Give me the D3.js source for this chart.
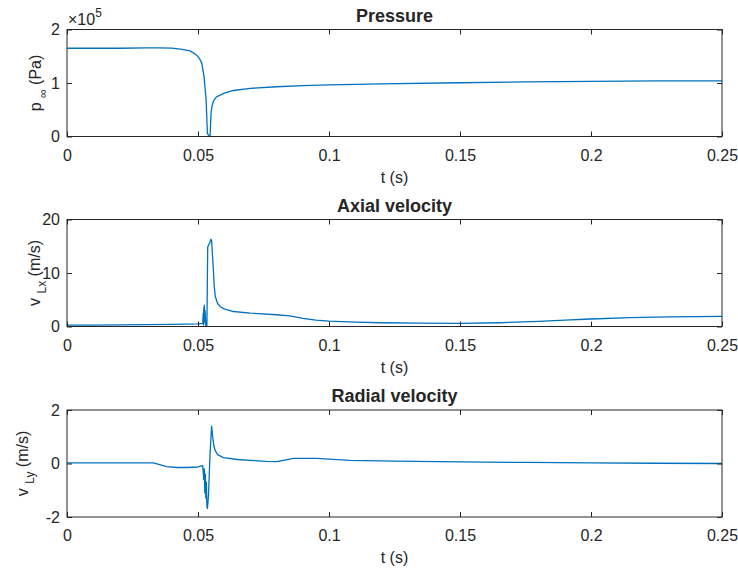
<!DOCTYPE html>
<html>
<head>
<meta charset="utf-8">
<script src="https://cdn.jsdelivr.net/npm/d3@7"></script>
<style>
  body { margin: 0; background: #fff; }
  text { font-family: "Liberation Sans", Arial, Helvetica, sans-serif; fill: #262626; }
</style>
</head>
<body>
<script>
// time axis ticks shared by all three panels
const tTicks = [0, 0.05, 0.1, 0.15, 0.2, 0.25];

// pressure p_inf (Pa)
const pressureT = [0, 0.01, 0.02, 0.03, 0.035, 0.04, 0.044, 0.047, 0.0495, 0.0505, 0.0514, 0.0523, 0.0531, 0.0536,
  0.0546, 0.0550, 0.0554, 0.0559, 0.0565, 0.0571, 0.060, 0.0635, 0.070, 0.080, 0.090, 0.100, 0.120, 0.150,
  0.175, 0.200, 0.225, 0.250];
const pressureP = [1.65e5, 1.65e5, 1.65e5, 1.655e5, 1.655e5, 1.65e5, 1.63e5, 1.60e5, 1.52e5, 1.46e5, 1.38e5, 1.12e5,
  0.68e5, 0.05e5, 0, 0.45e5, 0.58e5, 0.66e5, 0.71e5, 0.74e5, 0.81e5, 0.86e5, 0.90e5, 0.93e5, 0.95e5, 0.965e5,
  0.985e5, 1.005e5, 1.02e5, 1.03e5, 1.04e5, 1.04e5];
const pressureTicks = [0, 1e5, 2e5];

// axial velocity v_Lx (m/s)
const axialT = [0, 0.01, 0.02, 0.03, 0.04, 0.045, 0.05, 0.0518, 0.0520, 0.0521, 0.0522, 0.0523, 0.0524, 0.0525,
  0.0527, 0.0530, 0.0534, 0.0537, 0.0540, 0.0545, 0.0549, 0.0552, 0.0555, 0.0558, 0.0562, 0.0566, 0.0575, 0.0585,
  0.060, 0.0635, 0.070, 0.080, 0.085, 0.090, 0.095, 0.100, 0.110, 0.120, 0.135, 0.150, 0.165, 0.180, 0.190,
  0.200, 0.215, 0.230, 0.250];
const axialV = [0.25, 0.25, 0.3, 0.35, 0.4, 0.45, 0.5, 0.6, 2.5, 0.3, 3.5, 0.5, 4.0, 1.0, 3.0, 0.1, 0.2, 14.8,
  15.2, 15.6, 16.3, 16.0, 13.5, 11.2, 7.5, 5.6, 4.3, 3.7, 3.3, 2.8, 2.5, 2.2, 2.0, 1.5, 1.2, 1.0, 0.8, 0.7, 0.62,
  0.6, 0.7, 0.95, 1.2, 1.4, 1.65, 1.8, 1.9];
const axialTicks = [0, 10, 20];

// radial velocity v_Ly (m/s)
const radialT = [0, 0.01, 0.02, 0.03, 0.033, 0.036, 0.038, 0.042, 0.046, 0.050, 0.0518, 0.0522, 0.0524, 0.0526,
  0.0528, 0.0530, 0.0532, 0.0534, 0.0536, 0.0540, 0.0543, 0.0546, 0.0549, 0.0552, 0.0556, 0.0560, 0.0565, 0.0575,
  0.0597, 0.065, 0.070, 0.076, 0.080, 0.0826, 0.0864, 0.0953, 0.108, 0.125, 0.150, 0.175, 0.200, 0.225, 0.250];
const radialV = [0.02, 0.02, 0.02, 0.02, 0.02, -0.06, -0.12, -0.15, -0.15, -0.13, -0.08, -0.6, -0.2, -1.1, -0.4,
  -1.3, -0.7, -1.6, -1.68, -1.2, -0.4, 0.35, 0.9, 1.4, 1.0, 0.7, 0.5, 0.33, 0.22, 0.15, 0.12, 0.08, 0.07, 0.12,
  0.19, 0.19, 0.12, 0.09, 0.06, 0.04, 0.02, 0.01, 0.0];
const radialTicks = [-2, 0, 2];

const W = 738, H = 575;
const left = 67, right = 722, plotH = 107;
const ink = "#262626", lineColor = "#0072BD";

const svg = d3.select("body").append("svg").attr("width", W).attr("height", H);

const panels = [
  { title: "Pressure", top: 29.5, t: pressureT, v: pressureP, domain: [0, 2e5], ticks: pressureTicks,
    fmt: d => String(d / 1e5), ylab: ["p", "\u221E", " (Pa)"], ylabX: 41, exponent: true },
  { title: "Axial velocity", top: 219.5, t: axialT, v: axialV, domain: [0, 20], ticks: axialTicks,
    fmt: d => String(d), ylab: ["v", "Lx", " (m/s)"], ylabX: 40 },
  { title: "Radial velocity", top: 410, t: radialT, v: radialV, domain: [-2, 2], ticks: radialTicks,
    fmt: d => String(d), ylab: ["v", "Ly", " (m/s)"], ylabX: 28 }
];

const x = d3.scaleLinear().domain([0, 0.25]).range([left, right]);

panels.forEach(p => {
  const y = d3.scaleLinear().domain(p.domain).range([p.top + plotH, p.top]);
  const g = svg.append("g");

  // data line (drawn first so the box sits on top)
  const pts = p.t.map((t, i) => [t, p.v[i]]);
  g.append("path")
    .datum(pts)
    .attr("fill", "none")
    .attr("stroke", lineColor)
    .attr("stroke-width", 1.3)
    .attr("stroke-linejoin", "round")
    .attr("d", d3.line().x(d => x(d[0])).y(d => y(d[1])));

  // bottom axis with labels, ticks inside
  const xb = g.append("g").attr("transform", `translate(0,${p.top + plotH})`)
    .call(d3.axisBottom(x).tickValues(tTicks).tickFormat(d3.format("~g")).tickSizeInner(-5).tickSizeOuter(0));
  xb.selectAll("text").attr("y", 13).attr("dy", "0.71em").style("font-size", "16px").attr("fill", ink);
  // top ticks
  g.append("g").attr("transform", `translate(0,${p.top})`)
    .call(d3.axisTop(x).tickValues(tTicks).tickFormat("").tickSizeInner(-5).tickSizeOuter(0));

  // left axis with labels
  const yl = g.append("g").attr("transform", `translate(${left},0)`)
    .call(d3.axisLeft(y).tickValues(p.ticks).tickFormat(p.fmt).tickSizeInner(-5).tickSizeOuter(0));
  yl.selectAll("text").attr("x", -7).style("font-size", "16px").attr("fill", ink);
  // right ticks
  g.append("g").attr("transform", `translate(${right},0)`)
    .call(d3.axisRight(y).tickValues(p.ticks).tickFormat("").tickSizeInner(-5).tickSizeOuter(0));

  g.selectAll(".domain").remove();
  g.selectAll(".tick line").attr("stroke", ink);

  // box
  g.append("rect")
    .attr("x", left).attr("y", p.top)
    .attr("width", right - left).attr("height", plotH)
    .attr("fill", "none").attr("stroke", ink).attr("stroke-width", 1);

  // title
  g.append("text")
    .attr("x", (left + right) / 2).attr("y", p.top - 8)
    .attr("text-anchor", "middle")
    .style("font-size", "18px").style("font-weight", "bold")
    .text(p.title);

  // x label
  g.append("text")
    .attr("x", (left + right) / 2).attr("y", p.top + plotH + 46)
    .attr("text-anchor", "middle")
    .style("font-size", "16px")
    .text("t (s)");

  // y label, rotated, with subscript
  const yt = g.append("text")
    .attr("transform", `translate(${p.ylabX},${p.top + plotH / 2}) rotate(-90)`)
    .attr("text-anchor", "middle")
    .style("font-size", "16px");
  yt.append("tspan").text(p.ylab[0] + " ");
  yt.append("tspan").attr("dy", 6).style("font-size", "12px").text(p.ylab[1]);
  yt.append("tspan").attr("dy", -6).text(p.ylab[2]);

  // exponent marker
  if (p.exponent) {
    const ex = g.append("text").attr("x", left + 1).attr("y", p.top - 5).style("font-size", "16px");
    ex.append("tspan").text("\u00D710");
    ex.append("tspan").attr("dy", -8).style("font-size", "12px").text("5");
  }
});
</script>
</body>
</html>
